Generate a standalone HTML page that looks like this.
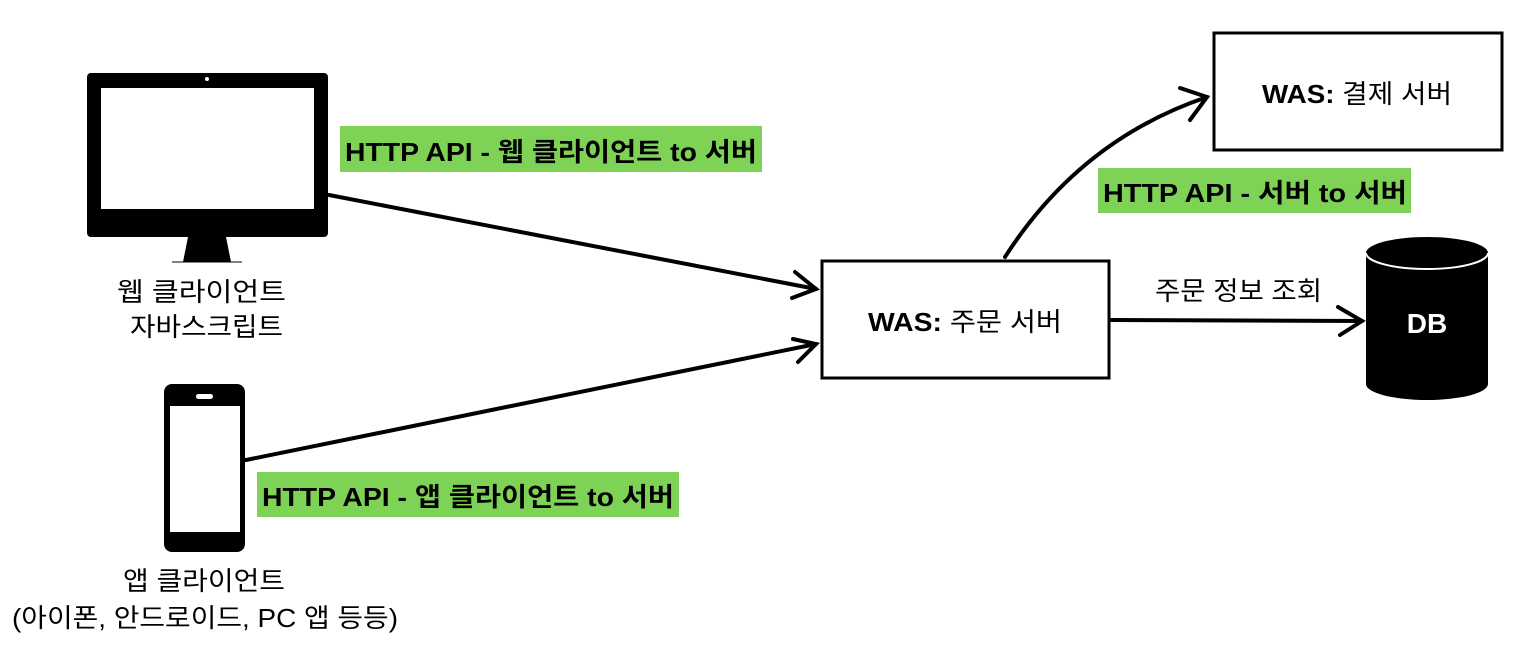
<!DOCTYPE html>
<html><head><meta charset="utf-8"><style>
html,body{margin:0;padding:0;background:#fff;}
svg{display:block;}
text{font-family:"Liberation Sans","Noto Sans CJK KR",sans-serif;}
</style></head><body>
<svg width="1534" height="646" viewBox="0 0 1534 646" xmlns="http://www.w3.org/2000/svg">
<!-- monitor -->
<rect x="87" y="73" width="241" height="164" rx="4" fill="#000"/>
<rect x="101" y="88" width="213" height="121" fill="#fff"/>
<circle cx="207" cy="79" r="2" fill="#fff"/>
<polygon points="188,237 226,237 231,262 183,262" fill="#000"/>
<line x1="172" y1="262" x2="242" y2="262" stroke="#000" stroke-width="1"/>
<text x="117" y="301" font-size="26" textLength="169" lengthAdjust="spacingAndGlyphs">웹 클라이언트</text>
<text x="130" y="336" font-size="26" textLength="153" lengthAdjust="spacingAndGlyphs">자바스크립트</text>
<!-- phone -->
<rect x="164" y="384" width="81" height="168" rx="8" fill="#000"/>
<rect x="170" y="406" width="70" height="126" fill="#fff"/>
<rect x="196" y="394" width="17" height="5" rx="2.5" fill="#fff"/>
<text x="123" y="590" font-size="26" textLength="162" lengthAdjust="spacingAndGlyphs">앱 클라이언트</text>
<text x="12" y="627" font-size="26" textLength="386" lengthAdjust="spacingAndGlyphs">(아이폰, 안드로이드, PC 앱 등등)</text>
<!-- green labels -->
<rect x="340" y="126" width="422" height="46" fill="#7ed357"/>
<text x="345" y="161" font-size="26" font-weight="bold" textLength="412" lengthAdjust="spacingAndGlyphs">HTTP API - 웹 클라이언트 to 서버</text>
<rect x="1098" y="168" width="313" height="45" fill="#7ed357"/>
<text x="1103" y="202" font-size="26" font-weight="bold" textLength="304" lengthAdjust="spacingAndGlyphs">HTTP API - 서버 to 서버</text>
<rect x="257" y="472" width="422" height="45" fill="#7ed357"/>
<text x="262" y="506" font-size="26" font-weight="bold" textLength="412" lengthAdjust="spacingAndGlyphs">HTTP API - 앱 클라이언트 to 서버</text>
<!-- boxes -->
<rect x="822" y="261" width="287" height="117" fill="#fff" stroke="#000" stroke-width="3"/>
<text x="868" y="331" font-size="26" textLength="194" lengthAdjust="spacingAndGlyphs"><tspan font-weight="bold">WAS:</tspan> 주문 서버</text>
<rect x="1214" y="33" width="288" height="117" fill="#fff" stroke="#000" stroke-width="3"/>
<text x="1262" y="103" font-size="26" textLength="190" lengthAdjust="spacingAndGlyphs"><tspan font-weight="bold">WAS:</tspan> 결제 서버</text>
<!-- DB -->
<path d="M1366,253 L1366,384 A61,16 0 0 0 1488,384 L1488,253 Z" fill="#000"/>
<ellipse cx="1427" cy="253" rx="61" ry="16" fill="#000"/>
<path d="M1366,253 A61,16 0 0 0 1488,253" fill="none" stroke="#fff" stroke-width="2"/>
<text x="1427" y="333" font-size="28" font-weight="bold" fill="#fff" text-anchor="middle">DB</text>
<text x="1155" y="300" font-size="26" textLength="167" lengthAdjust="spacingAndGlyphs">주문 정보 조회</text>
<!-- arrows -->
<g stroke="#000" stroke-width="4" fill="none" stroke-linecap="round">
<line x1="329" y1="195" x2="816" y2="289"/>
<polyline points="795,272 816,289 792,298"/>
<line x1="246" y1="460" x2="816" y2="344"/>
<polyline points="793,339 816,344 798,362"/>
<path d="M1005,257 Q1080,140 1207,97"/>
<polyline points="1180,88 1207,97 1190,120"/>
<line x1="1112" y1="320" x2="1362" y2="321"/>
<polyline points="1338,307 1362,321 1340,335"/>
</g>
</svg>
</body></html>
